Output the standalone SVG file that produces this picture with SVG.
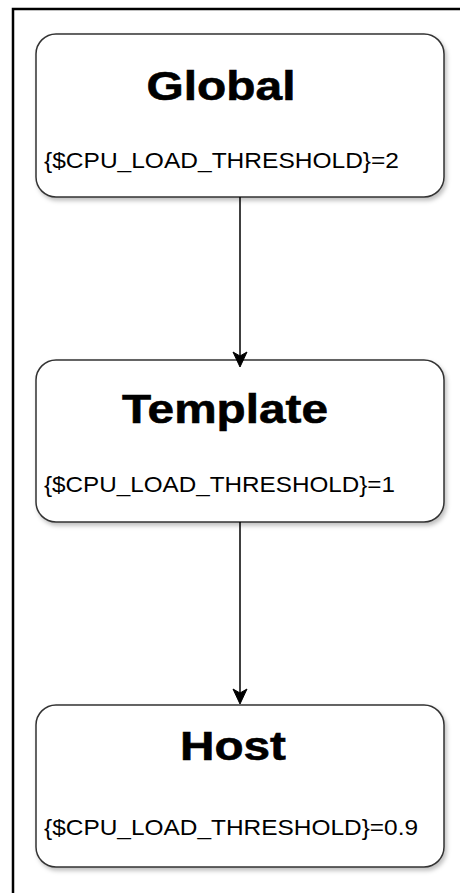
<svg xmlns="http://www.w3.org/2000/svg" width="460" height="893" viewBox="0 0 460 893">
<style>
.box{fill:#fff;stroke:#333;stroke-width:1.5;filter:url(#sh)}
.title{font-family:"Liberation Sans",Arial,sans-serif;font-weight:bold;font-size:41px;fill:#000;text-anchor:middle;stroke:#000;stroke-width:0.6}
.sub{font-family:"Liberation Sans",Arial,sans-serif;font-size:22px;fill:#000}
.edge{stroke:#000;stroke-width:1.5;fill:none}
.head{fill:#000;stroke:#000;stroke-width:1;stroke-linejoin:miter}
</style>
<defs>
<filter id="sh" x="-10%" y="-10%" width="120%" height="130%">
<feDropShadow dx="2" dy="3" stdDeviation="2" flood-color="#000" flood-opacity="0.25"/>
</filter>
</defs>
<rect width="460" height="893" fill="#fff"/>
<path d="M13,893 V9 H460" fill="none" stroke="#000" stroke-width="2.5"/>
<g id="global">
<rect class="box" x="36" y="34" width="408" height="163" rx="20"/>
<text class="title" x="221" y="100" textLength="149" lengthAdjust="spacingAndGlyphs">Global</text>
<text class="sub" x="44" y="168" textLength="355" lengthAdjust="spacingAndGlyphs">{$CPU_LOAD_THRESHOLD}=2</text>
</g>
<g id="template">
<rect class="box" x="36" y="360" width="408" height="162" rx="20"/>
<text class="title" x="225" y="423" textLength="206" lengthAdjust="spacingAndGlyphs">Template</text>
<text class="sub" x="44" y="492" textLength="351" lengthAdjust="spacingAndGlyphs">{$CPU_LOAD_THRESHOLD}=1</text>
</g>
<g id="host">
<rect class="box" x="36" y="705" width="408" height="162" rx="20"/>
<text class="title" x="233" y="760" textLength="106" lengthAdjust="spacingAndGlyphs">Host</text>
<text class="sub" x="44" y="835" textLength="374" lengthAdjust="spacingAndGlyphs">{$CPU_LOAD_THRESHOLD}=0.9</text>
</g>
<g id="connectors">
<line class="edge" x1="240" y1="197" x2="240" y2="360"/>
<path class="head" d="M233,352 L240,367 L247,352 L240,356 Z"/>
<line class="edge" x1="240" y1="522" x2="240" y2="698"/>
<path class="head" d="M233,689 L240,704 L247,689 L240,693 Z"/>
</g>
</svg>
